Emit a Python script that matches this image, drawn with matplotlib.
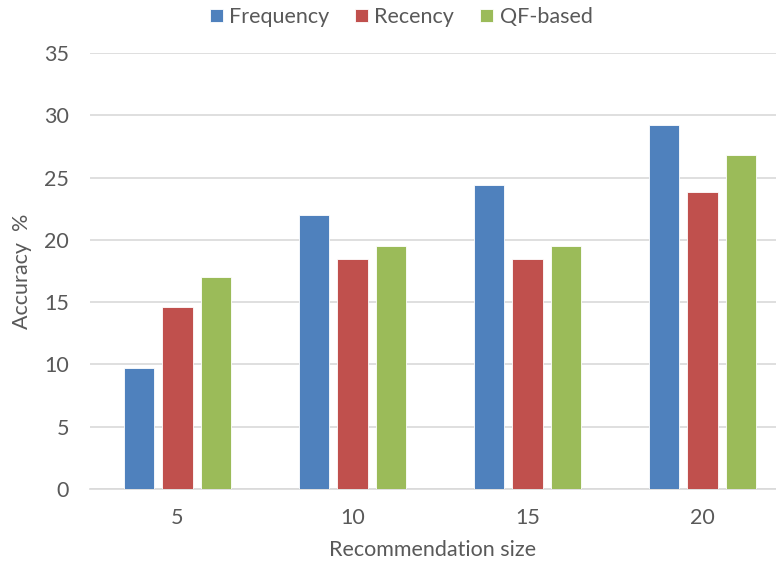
import matplotlib.pyplot as plt
import numpy as np

# values
sizes = ['5', '10', '15', '20']
frequency = [9.75, 22.0, 24.4, 29.2]
recency = [14.6, 18.5, 18.5, 23.85]
qf_based = [17.05, 19.5, 19.5, 26.85]

series = [('Frequency', frequency, '#4F81BD'),
          ('Recency', recency, '#C0504D'),
          ('QF-based', qf_based, '#9BBB59')]

plt.rcParams['font.family'] = ['Lato', 'DejaVu Sans']
text_color = '#595959'
fs = 15.5

fig = plt.figure(figsize=(7.76, 5.65), dpi=100)
ax = fig.add_axes([90 / 776, 76 / 565, 686 / 776, 436 / 565])

x = np.arange(len(sizes))
width = 0.172
step = 0.221
for i, (name, vals, color) in enumerate(series):
    ax.bar(x + (i - 1) * step, vals, width, color=color, label=name,
           edgecolor='white', linewidth=0.6, zorder=3)

ax.set_xlim(-0.5, 3.42)
ax.set_ylim(0, 35)
ax.set_yticks(range(0, 36, 5))
ax.set_xticks(x)
ax.set_xticklabels(sizes)
ax.yaxis.grid(True, color='#D9D9D9', linewidth=1.2, zorder=0)

for side in ['top', 'right', 'left']:
    ax.spines[side].set_visible(False)
ax.spines['bottom'].set_color('#D9D9D9')
ax.spines['bottom'].set_linewidth(1.2)
ax.tick_params(length=0, labelsize=fs, labelcolor=text_color)
ax.tick_params(axis='x', pad=14)
ax.tick_params(axis='y', pad=15)

ax.set_xlabel('Recommendation size', fontsize=fs, color=text_color, labelpad=8)
ax.set_ylabel('Accuracy  %', fontsize=fs, color=text_color, labelpad=9)

fig.legend(loc='center', bbox_to_anchor=(401 / 776, 1 - 17 / 565), ncol=3,
           frameon=False, fontsize=fs, labelcolor=text_color,
           handlelength=0.6, handleheight=0.6, handletextpad=0.3,
           columnspacing=1.2)

fig.savefig('out.png', dpi=100)
